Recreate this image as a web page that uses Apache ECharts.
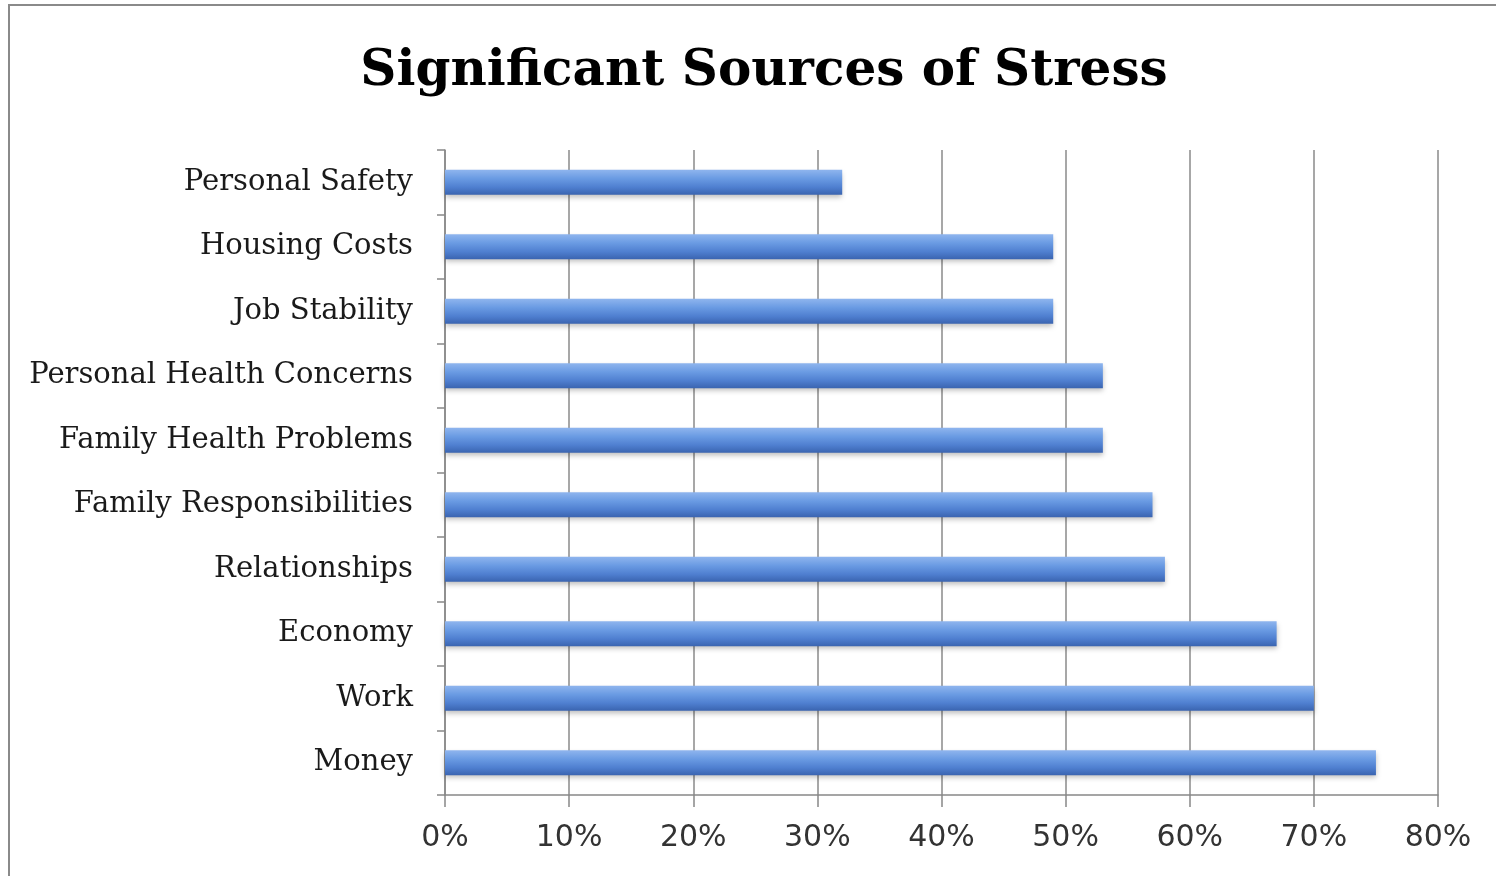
<!DOCTYPE html>
<html>
<head>
<meta charset="utf-8">
<script src="https://cdn.jsdelivr.net/npm/echarts@6/dist/echarts.min.js"></script>
<style>
html,body{margin:0;padding:0;background:#fff;}
#frame{position:absolute;left:8px;top:4px;width:1488px;height:872px;border-left:2px solid #8a8a8a;border-top:2px solid #8a8a8a;box-sizing:border-box;}
#chart{position:absolute;left:0;top:0;width:1496px;height:876px;}
</style>
</head>
<body>
<div id="frame"></div>
<div id="chart"></div>
<script>
const categories = ["Personal Safety","Housing Costs","Job Stability","Personal Health Concerns","Family Health Problems","Family Responsibilities","Relationships","Economy","Work","Money"];
const values = [32, 49, 49, 53, 53, 57, 58, 67, 70, 75];
const tickLabels = ["0%","10%","20%","30%","40%","50%","60%","70%","80%"];
const titleText = "Significant Sources of Stress";

const chart = echarts.init(document.getElementById('chart'), null, {renderer:'canvas'});
chart.setOption({
  backgroundColor: 'transparent',
  animation: false,
  title: {
    text: titleText,
    left: 759, top: 42, textAlign: 'center',
    textStyle: {fontFamily: 'DejaVu Serif', fontWeight: 'bold', fontSize: 50, color: '#000'}
  },
  grid: {left: 445, right: 58, top: 150, bottom: 81, containLabel: false},
  xAxis: {
    type: 'value', min: 0, max: 80, interval: 10,
    axisLine: {show: true, lineStyle: {color: '#888', width: 1.5}},
    axisTick: {show: true, length: 12, lineStyle: {color: '#888', width: 1.5}},
    splitLine: {show: true, lineStyle: {color: '#8a8a8a', width: 1.5}},
    axisLabel: {
      margin: 28, fontFamily: 'DejaVu Sans', fontSize: 30, color: '#333',
      formatter: v => tickLabels[Math.round(v/10)]
    }
  },
  yAxis: {
    type: 'category', data: categories, inverse: true,
    axisLine: {show: true, lineStyle: {color: '#888', width: 1.5}},
    axisTick: {show: true, length: 8, lineStyle: {color: '#888', width: 1.5}},
    splitLine: {show: false},
    axisLabel: {margin: 32, fontFamily: 'DejaVu Serif', fontSize: 29, color: '#1a1a1a'}
  },
  series: [{
    type: 'bar',
    data: values,
    barWidth: 25,
    itemStyle: {
      color: new echarts.graphic.LinearGradient(0, 0, 0, 1, [
        {offset: 0, color: '#8fb5ee'},
        {offset: 0.35, color: '#6a9be3'},
        {offset: 0.7, color: '#4f7fd0'},
        {offset: 1, color: '#3a64b0'}
      ]),
      shadowColor: 'rgba(0,0,0,0.25)', shadowBlur: 5, shadowOffsetY: 3
    }
  }]
});
</script>
</body>
</html>
